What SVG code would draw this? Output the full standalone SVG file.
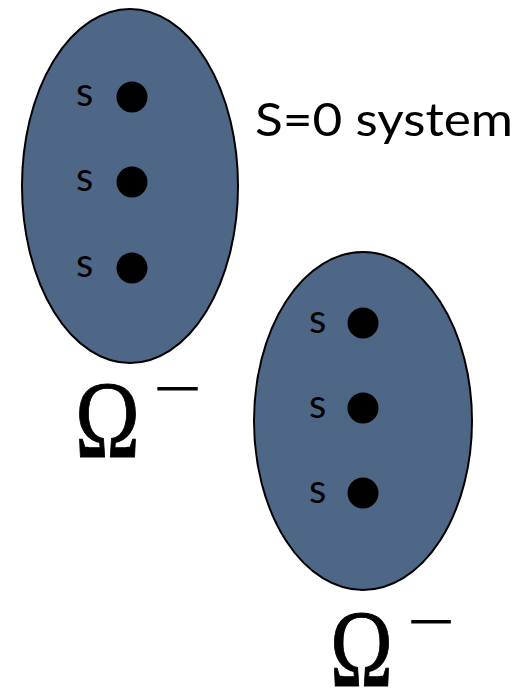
<svg xmlns="http://www.w3.org/2000/svg" width="520" height="691" viewBox="0 0 520 691">
  <style>
    .blob { fill: #4f6787; stroke: #000; stroke-width: 2; }
    .dot { fill: #000; }
    .s { font-family: Lato, "Open Sans", sans-serif; font-size: 40px; fill: #000; }
    .lbl { font-family: Lato, "Open Sans", sans-serif; font-size: 46px; fill: #000; }
    .om { font-family: "Liberation Serif", serif; font-size: 110px; fill: #000; stroke: #000; stroke-width: 1; }
    .mi { font-family: "Liberation Serif", serif; font-size: 70px; fill: #000; }
  </style>
  <g id="system-left">
    <ellipse class="blob" cx="130" cy="186" rx="108" ry="177"/>
    <circle class="dot" cx="132" cy="97" r="15.5"/>
    <circle class="dot" cx="132" cy="182" r="15.5"/>
    <circle class="dot" cx="132" cy="268" r="15.5"/>
    <text class="s" x="76" y="106">s</text>
    <text class="s" x="76" y="191">s</text>
    <text class="s" x="76" y="277">s</text>
  </g>
  <g id="label-system">
    <text class="lbl" x="255" y="136" textLength="258" lengthAdjust="spacingAndGlyphs">S=0 system</text>
  </g>
  <g id="omega-left">
    <text class="om" x="75" y="457" textLength="65" lengthAdjust="spacingAndGlyphs">Ω</text>
    <text class="mi" x="153" y="412" textLength="49" lengthAdjust="spacingAndGlyphs">−</text>
  </g>
  <g id="system-right">
    <ellipse class="blob" cx="363" cy="421" rx="109" ry="169"/>
    <circle class="dot" cx="363" cy="323" r="15.5"/>
    <circle class="dot" cx="363" cy="408" r="15.5"/>
    <circle class="dot" cx="363" cy="493" r="15.5"/>
    <text class="s" x="309" y="333">s</text>
    <text class="s" x="309" y="418">s</text>
    <text class="s" x="309" y="503">s</text>
  </g>
  <g id="omega-right">
    <text class="om" x="330" y="686" textLength="63" lengthAdjust="spacingAndGlyphs">Ω</text>
    <text class="mi" x="407" y="645" textLength="48" lengthAdjust="spacingAndGlyphs">−</text>
  </g>
  <g id="connectors"/>
</svg>
